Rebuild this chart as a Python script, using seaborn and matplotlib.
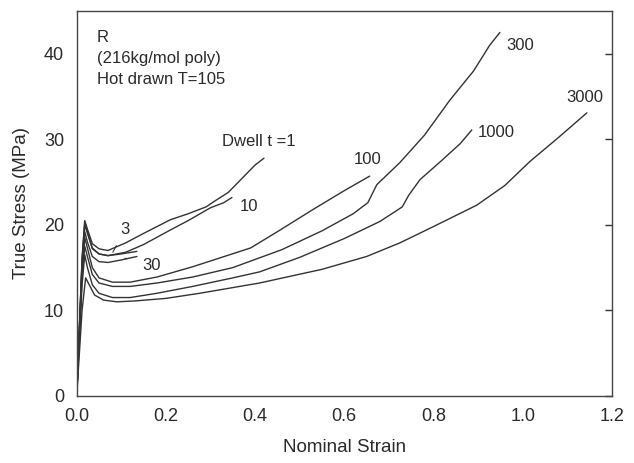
import pandas as pd
import seaborn as sns
import matplotlib.pyplot as plt

# curves: nominal strain vs true stress, one per dwell time
dwell = ['1', '3', '10', '30', '100', '300', '1000', '3000']

strain_1 = [0, 0.006, 0.012, 0.018, 0.024, 0.035, 0.05, 0.07, 0.11, 0.15, 0.21, 0.25, 0.29, 0.31, 0.34, 0.37, 0.40, 0.42]
stress_1 = [0, 8, 16, 20.5, 19.5, 17.8, 17.2, 17.0, 17.9, 19.0, 20.6, 21.3, 22.1, 22.8, 23.8, 25.4, 27.0, 27.8]

strain_3 = [0, 0.006, 0.012, 0.018, 0.024, 0.035, 0.05, 0.07, 0.10, 0.135]
stress_3 = [0, 8, 16, 20.3, 19.2, 17.2, 16.6, 16.4, 16.6, 16.9]

strain_10 = [0, 0.006, 0.012, 0.018, 0.024, 0.035, 0.05, 0.07, 0.11, 0.15, 0.21, 0.25, 0.30, 0.33, 0.348]
stress_10 = [0, 8, 15.5, 20.0, 19.0, 17.3, 16.6, 16.4, 16.8, 17.7, 19.4, 20.5, 22.0, 22.6, 23.2]

strain_30 = [0, 0.006, 0.012, 0.018, 0.024, 0.035, 0.05, 0.07, 0.10, 0.135]
stress_30 = [0, 7.5, 15, 19.2, 18.0, 16.3, 15.7, 15.6, 15.9, 16.3]

strain_100 = [0, 0.006, 0.012, 0.018, 0.024, 0.035, 0.05, 0.08, 0.12, 0.18, 0.26, 0.39, 0.45, 0.53, 0.60, 0.657]
stress_100 = [0, 7.5, 14.5, 18.5, 17.3, 15.0, 13.8, 13.3, 13.3, 13.9, 15.1, 17.3, 19.2, 21.8, 24.0, 25.7]

strain_300 = [0, 0.006, 0.012, 0.018, 0.024, 0.035, 0.05, 0.08, 0.12, 0.18, 0.26, 0.35, 0.46, 0.55, 0.62,
              0.653, 0.673, 0.725, 0.78, 0.837, 0.89, 0.926, 0.949]
stress_300 = [0, 7, 14, 17.5, 16.3, 14.2, 13.2, 12.8, 12.8, 13.2, 13.9, 15.0, 17.1, 19.3, 21.3,
              22.6, 24.7, 27.3, 30.5, 34.6, 38.0, 41.0, 42.5]

strain_1000 = [0, 0.006, 0.012, 0.018, 0.024, 0.035, 0.05, 0.08, 0.12, 0.18, 0.26, 0.35, 0.41, 0.50, 0.60,
               0.68, 0.73, 0.745, 0.77, 0.82, 0.86, 0.886]
stress_1000 = [0, 6.5, 13, 16.5, 15.0, 13.0, 12.0, 11.5, 11.5, 12.0, 12.8, 13.8, 14.5, 16.2, 18.4,
               20.4, 22.1, 23.5, 25.3, 27.6, 29.5, 31.1]

strain_3000 = [0, 0.006, 0.012, 0.02, 0.028, 0.04, 0.06, 0.09, 0.13, 0.2, 0.276, 0.41, 0.55, 0.65, 0.725,
               0.8, 0.897, 0.96, 1.016, 1.08, 1.144]
stress_3000 = [0, 5, 10, 13.8, 13.0, 11.8, 11.2, 11.0, 11.1, 11.4, 12.0, 13.2, 14.8, 16.3, 17.9,
               19.8, 22.3, 24.6, 27.4, 30.2, 33.1]

strains = [strain_1, strain_3, strain_10, strain_30, strain_100, strain_300, strain_1000, strain_3000]
stresses = [stress_1, stress_3, stress_10, stress_30, stress_100, stress_300, stress_1000, stress_3000]

#long form table for seaborn
frames = []
for d, s, y in zip(dwell, strains, stresses):
    frames.append(pd.DataFrame({'strain': s, 'stress': y, 'dwell': d}))
curves = pd.concat(frames, ignore_index=True)

sns.set_style('white')
plt.rcParams['font.family'] = ['Liberation Sans', 'DejaVu Sans']

fig = plt.figure(figsize=(6.34, 4.63), dpi=100)
ax = fig.add_axes([0.121, 0.145, 0.844, 0.831])

sns.lineplot(data=curves, x='strain', y='stress', hue='dwell', units='dwell', estimator=None,
             sort=False, palette=['#333333'] * len(dwell), linewidth=1.0, legend=False, ax=ax)

ax.set_xlim(0, 1.2)
ax.set_ylim(0, 45)
ax.set_xticks([0, 0.2, 0.4, 0.6, 0.8, 1.0, 1.2])
ax.set_xticklabels(['0.0', '0.2', '0.4', '0.6', '0.8', '1.0', '1.2'])
ax.set_yticks([0, 10, 20, 30, 40])
ax.tick_params(direction='in', length=5, width=1, colors='#333333', labelsize=13,
               right=True, pad=9, labelcolor='#2a2a2a')
for sp in ax.spines.values():
    sp.set_color('#444444')
    sp.set_linewidth(1.0)

ax.set_xlabel('Nominal Strain', fontsize=13.5, color='#2a2a2a', labelpad=10)
ax.set_ylabel('True Stress (MPa)', fontsize=13.5, color='#2a2a2a', labelpad=10)

# curve labels
lab = dict(fontsize=12, color='#2a2a2a')
ax.text(0.325, 29.8, 'Dwell t =1', ha='left', va='center', **lab)
ax.text(0.386, 22.2, '10', ha='center', va='center', **lab)
ax.text(0.653, 27.6, '100', ha='center', va='center', **lab)
ax.text(0.994, 41.0, '300', ha='center', va='center', **lab)
ax.text(0.94, 30.8, '1000', ha='center', va='center', **lab)
ax.text(1.14, 34.9, '3000', ha='center', va='center', **lab)
ax.annotate('3', xy=(0.081, 16.8), xytext=(0.108, 19.4), ha='center', va='center',
            arrowprops=dict(arrowstyle='-', color='#333333', lw=0.8, shrinkA=4, shrinkB=0), **lab)
ax.annotate('30', xy=(0.108, 16.1), xytext=(0.168, 15.3), ha='center', va='center',
            arrowprops=dict(arrowstyle='-', color='#333333', lw=0.8, shrinkA=9, shrinkB=0), **lab)

ax.text(0.045, 42.8, 'R\n(216kg/mol poly)\nHot drawn T=105', ha='left', va='top',
        linespacing=1.5, **lab)

fig.savefig('out.png', dpi=100)
